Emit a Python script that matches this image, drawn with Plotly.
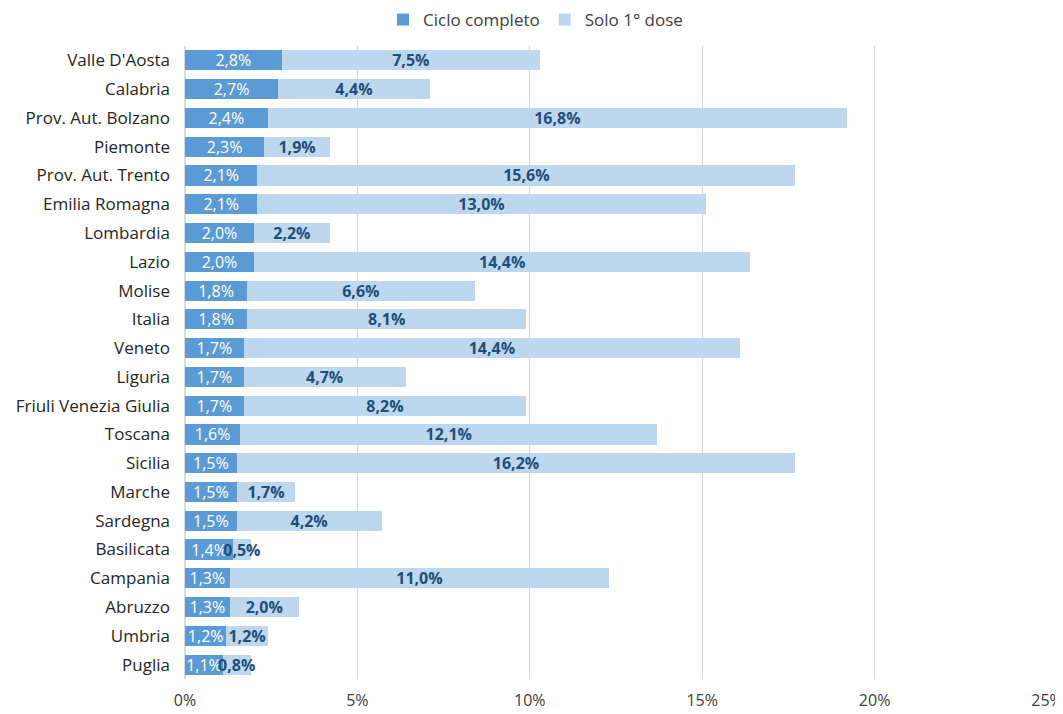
import plotly.graph_objects as go

regions = ["Valle D'Aosta", "Calabria", "Prov. Aut. Bolzano", "Piemonte", "Prov. Aut. Trento",
           "Emilia Romagna", "Lombardia", "Lazio", "Molise", "Italia", "Veneto", "Liguria",
           "Friuli Venezia Giulia", "Toscana", "Sicilia", "Marche", "Sardegna", "Basilicata",
           "Campania", "Abruzzo", "Umbria", "Puglia"]
ciclo_completo = [2.8, 2.7, 2.4, 2.3, 2.1, 2.1, 2.0, 2.0, 1.8, 1.8, 1.7, 1.7, 1.7, 1.6, 1.5,
                  1.5, 1.5, 1.4, 1.3, 1.3, 1.2, 1.1]
solo_prima_dose = [7.5, 4.4, 16.8, 1.9, 15.6, 13.0, 2.2, 14.4, 6.6, 8.1, 14.4, 4.7, 8.2, 12.1,
                   16.2, 1.7, 4.2, 0.5, 11.0, 2.0, 1.2, 0.8]
x_ticks = [0, 5, 10, 15, 20, 25]
x_tick_labels = ["0%", "5%", "10%", "15%", "20%", "25%"]

FONT = "Open Sans"
FS = 16

# the page body adds an 8px offset; the figure is sized to fit the 1063x714 window
W, H = 1055, 706

fig = go.Figure()
fig.add_trace(go.Bar(
    y=regions, x=ciclo_completo, orientation="h", name="Ciclo completo",
    marker=dict(color="#5B9BD5", line=dict(width=0)),
    texttemplate="%{x:.1f}%", textposition="inside", insidetextanchor="middle",
    constraintext="none", cliponaxis=False, textangle=0,
    textfont=dict(family=FONT, size=FS, color="white"),
))
fig.add_trace(go.Bar(
    y=regions, x=solo_prima_dose, orientation="h", name="Solo 1° dose",
    marker=dict(color="#BDD7EE", line=dict(width=0)),
    texttemplate="<b>%{x:.1f}%</b>", textposition="inside", insidetextanchor="middle",
    constraintext="none", cliponaxis=False, textangle=0,
    textfont=dict(family=FONT, size=FS, color="#1F4E79"),
))

fig.update_layout(
    barmode="stack",
    bargap=0.3,
    width=W, height=H,
    separators=",.",
    paper_bgcolor="white", plot_bgcolor="white",
    margin=dict(l=177, r=16, t=38, b=35),
    font=dict(family=FONT, size=FS, color="#262626"),
    uniformtext=dict(minsize=FS, mode="show"),
    legend=dict(orientation="h", xref="container", yref="container",
                x=0.5, xanchor="center", y=1 - 12 / H, yanchor="middle",
                font=dict(family=FONT, size=17, color="#404040"), traceorder="normal"),
    xaxis=dict(range=[0, 25], tickmode="array", tickvals=x_ticks, ticktext=x_tick_labels,
               showgrid=True, gridcolor="#D9D9D9", gridwidth=1, zeroline=True,
               zerolinecolor="#D9D9D9", showline=False, automargin=False,
               tickfont=dict(family=FONT, size=FS, color="#404040"),
               ticks="", ticklabelstandoff=10),
    yaxis=dict(categoryorder="array", categoryarray=regions, autorange="reversed",
               showgrid=False, ticks="", ticklabelstandoff=14, automargin=False,
               tickfont=dict(family=FONT, size=17, color="#262626")),
)

fig.write_html("out.html")
